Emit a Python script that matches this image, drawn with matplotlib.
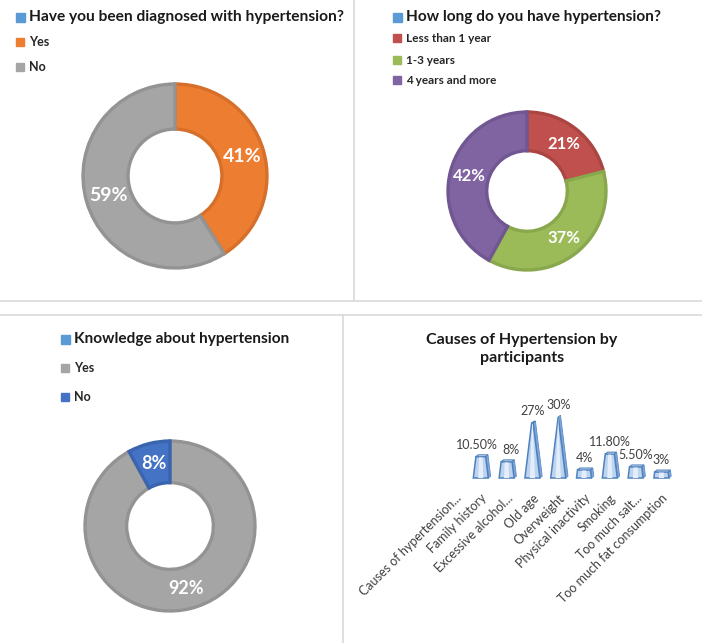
import matplotlib
matplotlib.use('Agg')
import matplotlib.pyplot as plt
from matplotlib.transforms import Affine2D
from matplotlib.patches import Rectangle
from matplotlib.lines import Line2D
import numpy as np

plt.rcParams['font.family'] = ['Lato', 'DejaVu Sans']

# data
diag_labels = ['Yes', 'No']
diag_values = [41, 59]
dur_labels = ['Less than 1 year', '1-3 years', '4 years and more']
dur_values = [21, 37, 42]
know_labels = ['Yes', 'No']
know_values = [92, 8]
cause_labels = ['Causes of hypertension...', 'Family history', 'Excessive alcohol...',
                'Old age', 'Overweight', 'Physical inactivity', 'Smoking',
                'Too much salt...', 'Too much fat consumption']
cause_values = [np.nan, 10.5, 8, 27, 30, 4, 11.8, 5.5, 3]
cause_texts = ['', '10.50%', '8%', '27%', '30%', '4%', '11.80%', '5.50%', '3%']

W, H = 702, 643
fig = plt.figure(figsize=(W / 100, H / 100), dpi=100)
# pixel coordinates, origin top-left
px = Affine2D().scale(1 / W, -1 / H).translate(0, 1) + fig.transFigure


def box(x, y, w, h):
    return [x / W, 1 - (y + h) / H, w / W, h / H]


# panel dividers
grid = '#D9D9D9'
for xs, ys in [([354, 354], [0, 300]), ([0, 702], [301, 301]),
               ([0, 702], [315, 315]), ([343, 343], [315, 643])]:
    fig.add_artist(Line2D(xs, ys, transform=px, color=grid, lw=1.2))


def legend(x, y, title, tsize, labels, colors, ys, lsize):
    fig.add_artist(Rectangle((x, y - 4.5), 9, 9, transform=px, color='#5B9BD5'))
    fig.text(x + 13, y, title, transform=px, fontsize=tsize, fontweight='bold',
             va='center', color='#1a1a1a')
    for lab, c, yy in zip(labels, colors, ys):
        fig.add_artist(Rectangle((x, yy - 4), 8, 8, transform=px, color=c))
        fig.text(x + 13, yy, lab, transform=px, fontsize=lsize, fontweight='bold',
                 va='center', color='#262626')


def donut(cx, cy, r, values, colors, edges, fsize):
    ax = fig.add_axes(box(cx - r - 4, cy - r - 4, 2 * r + 8, 2 * r + 8))
    lim = (r + 4) / r
    wedges, _, autotexts = ax.pie(values, colors=colors, startangle=90, counterclock=False,
                                  radius=1, pctdistance=0.755,
                                  autopct=lambda p: '%.0f%%' % p,
                                  wedgeprops=dict(width=0.49, linewidth=2.4))
    for w, e in zip(wedges, edges):
        w.set_edgecolor(e)
    for t in autotexts:
        t.set_color('white')
        t.set_fontsize(fsize)
        t.set_fontweight('bold')
    ax.set_xlim(-lim, lim)
    ax.set_ylim(-lim, lim)
    ax.set_aspect('equal')
    ax.axis('off')


# top left
c1 = ['#ED7D31', '#A5A5A5']
donut(175, 176, 92, diag_values, c1, ['#D56F2A', '#939393'], 14)
legend(16, 17, 'Have you been diagnosed with hypertension?', 11.2,
       diag_labels, c1, [42, 67], 9)

# top right
c2 = ['#C0504D', '#9BBB59', '#8064A2']
donut(527, 191, 79, dur_values, c2, ['#AB4542', '#89A84D', '#715791'], 12)
legend(393, 17, 'How long do you have hypertension?', 11.1,
       dur_labels, c2, [38, 60, 80], 8.5)

# bottom left
c3 = ['#A5A5A5', '#4472C4']
donut(170, 526, 85, know_values, c3, ['#939393', '#3A64AE'], 13)
legend(61, 339, 'Knowledge about hypertension', 11.1,
       know_labels, c3, [368, 397], 9)

# bottom right: truncated pyramids
fig.text(522, 349, 'Causes of Hypertension by\nparticipants', transform=px,
         fontsize=11.5, fontweight='bold', ha='center', va='center',
         linespacing=1.35, color='#1a1a1a')

step = 25.8
ax = fig.add_axes(box(455 - step / 2, 417, 9 * step, 61))
top = 30.0
hw = 0.29
nudge = {1: -3, 2: 3}
for i, v in enumerate(cause_values):
    if np.isnan(v):
        continue
    tw = hw * (1 - v / top)
    # right side face
    ax.fill([i + hw, i + hw + 0.09, i + tw + 0.09, i + tw],
            [0, 0.9, v + 0.9, v], color='#7FA7D9', ec='#5B8BC9', lw=0.6, clip_on=False)
    # front face
    ax.fill([i - hw, i + hw, i + tw, i - tw], [0, 0, v, v],
            color='#BCD4F0', ec='#4F81BD', lw=1.1, clip_on=False)
    ax.fill([i - hw * 0.35, i + hw * 0.35, i + tw * 0.35, i - tw * 0.35], [0, 0, v, v],
            color='#E4EEFA', lw=0, clip_on=False)
    if tw > 0.02:
        ax.fill([i - tw, i + tw, i + tw + 0.09, i - tw + 0.09], [v, v, v + 0.9, v + 0.9],
                color='#DCE8F6', ec='#4F81BD', lw=0.8, clip_on=False)
    ax.annotate(cause_texts[i], (i, v + 0.9), xytext=(nudge.get(i, 0), 3),
                textcoords='offset points', ha='center', va='bottom',
                fontsize=9, color='#404040', annotation_clip=False)

ax.set_xlim(-0.5, 8.5)
ax.set_ylim(0, top)
ax.set_xticks(range(len(cause_labels)))
ax.set_xticklabels(cause_labels, rotation=45, ha='right', rotation_mode='anchor',
                   fontsize=9, color='#404040')
ax.tick_params(axis='x', length=0, pad=10)
ax.set_yticks([])
for s in ax.spines.values():
    s.set_visible(False)
ax.patch.set_alpha(0)

fig.savefig('out.png', dpi=100)
